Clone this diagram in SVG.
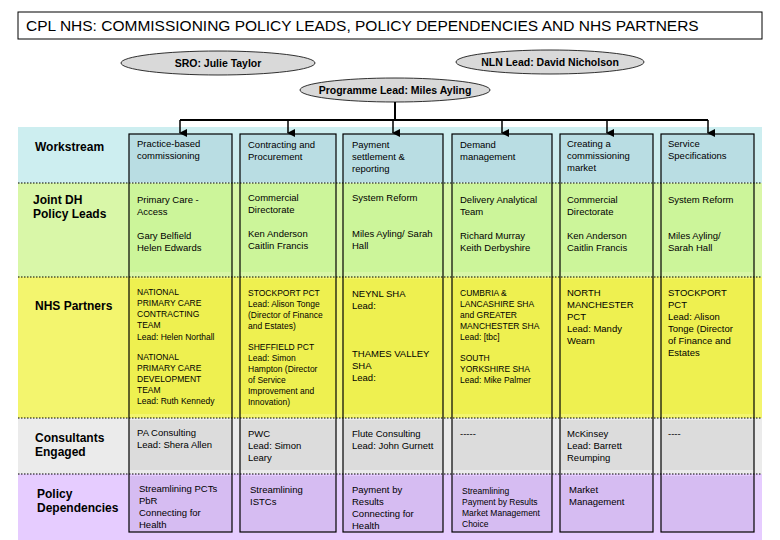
<svg xmlns="http://www.w3.org/2000/svg" width="780" height="540" viewBox="0 0 780 540">
<defs>
<marker id="ah" markerWidth="8" markerHeight="8" refX="4" refY="7" orient="auto" markerUnits="userSpaceOnUse" viewBox="0 0 8 8"><path d="M0,0 L8,0 L4,8 z" fill="#000"/></marker>
</defs>
<style>
text{font-family:"Liberation Sans",Arial,sans-serif;fill:#000}
.t{font-size:9.5px}
.s{font-size:8.5px}
.h{font-size:12px;font-weight:bold}
.e{fill:#d9d9d9;stroke:#000;stroke-width:0.8}
.et{font-size:10.5px;font-weight:bold;text-anchor:middle}
.col{fill:none;stroke:#000;stroke-width:1.2}
.dot{stroke:#000;stroke-width:1;stroke-dasharray:1.5,1.5}
.ln{stroke:#000;stroke-width:2;fill:none}
</style>
<rect width="780" height="540" fill="#fff"/>
<g id="title"><rect x="18" y="12" width="744" height="27" fill="#fff" stroke="#000"/>
<text x="26" y="31" font-size="15.5">CPL NHS: COMMISSIONING POLICY LEADS, POLICY DEPENDENCIES AND NHS PARTNERS</text></g>
<g id="sro"><ellipse cx="218" cy="63" rx="97" ry="12" class="e"/><text x="218" y="67" class="et">SRO: Julie Taylor</text></g>
<g id="nln"><ellipse cx="550" cy="62" rx="94" ry="12" class="e"/><text x="550" y="66" class="et">NLN Lead: David Nicholson</text></g>
<g id="prog"><ellipse cx="395" cy="90" rx="95" ry="12" class="e"/><text x="395" y="94" class="et">Programme Lead: Miles Ayling</text></g>
<g id="bands">
<rect x="18" y="127" width="744" height="56" fill="#cdeef0"/>
<rect x="18" y="183" width="744" height="94" fill="#d9f7a8"/>
<rect x="18" y="277" width="744" height="141" fill="#f3f56e"/>
<rect x="18" y="418" width="744" height="56" fill="#ebebeb"/>
<rect x="18" y="474" width="744" height="66" fill="#e6ccff"/>
<g fill="#b9dde3"><rect x="129" y="134" width="103" height="48"/><rect x="240" y="134" width="96" height="48"/><rect x="343" y="134" width="100" height="48"/><rect x="452" y="134" width="100" height="48"/><rect x="560" y="134" width="93" height="48"/><rect x="661" y="134" width="93" height="48"/></g>
<g fill="#ccf59a"><rect x="129" y="184" width="103" height="88"/><rect x="240" y="184" width="96" height="88"/><rect x="343" y="184" width="100" height="88"/><rect x="452" y="184" width="100" height="88"/><rect x="560" y="184" width="93" height="88"/><rect x="661" y="184" width="93" height="88"/></g>
<g fill="#eef050"><rect x="129" y="279" width="103" height="135"/><rect x="240" y="279" width="96" height="135"/><rect x="343" y="279" width="100" height="135"/><rect x="452" y="279" width="100" height="135"/><rect x="560" y="279" width="93" height="135"/><rect x="661" y="279" width="93" height="135"/></g>
<g fill="#dcdcdc"><rect x="129" y="420" width="103" height="50"/><rect x="240" y="420" width="96" height="50"/><rect x="343" y="420" width="100" height="50"/><rect x="452" y="420" width="100" height="50"/><rect x="560" y="420" width="93" height="50"/><rect x="661" y="420" width="93" height="50"/></g>
<g fill="#d6bcf2"><rect x="129" y="476" width="103" height="56"/><rect x="240" y="476" width="96" height="56"/><rect x="343" y="476" width="100" height="56"/><rect x="452" y="476" width="100" height="56"/><rect x="560" y="476" width="93" height="56"/><rect x="661" y="476" width="93" height="56"/></g>
<line x1="18" y1="183" x2="762" y2="183" class="dot"/>
<line x1="18" y1="277" x2="762" y2="277" class="dot"/>
<line x1="18" y1="418" x2="762" y2="418" class="dot"/>
<line x1="18" y1="474" x2="762" y2="474" class="dot"/>
</g>
<g id="connectors">
<line x1="395" y1="102" x2="395" y2="120" class="ln"/>
<line x1="180" y1="120" x2="708" y2="120" class="ln"/>
<g stroke="#000" stroke-width="1.5" marker-end="url(#ah)">
<line x1="180" y1="120" x2="180" y2="133"/><line x1="288" y1="120" x2="288" y2="133"/><line x1="393" y1="120" x2="393" y2="133"/><line x1="502" y1="120" x2="502" y2="133"/><line x1="607" y1="120" x2="607" y2="133"/><line x1="708" y1="120" x2="708" y2="133"/>
</g>
</g>
<g id="col1"><rect x="129" y="134" width="103" height="398" class="col"/>
<text class="t"><tspan x="137" y="147">Practice-based</tspan><tspan x="137" y="159">commissioning</tspan></text>
<text class="t"><tspan x="137" y="203">Primary Care -</tspan><tspan x="137" y="215">Access</tspan><tspan x="137" y="239">Gary Belfield</tspan><tspan x="137" y="251">Helen Edwards</tspan></text>
<text class="s"><tspan x="137" y="295">NATIONAL</tspan><tspan x="137" y="306">PRIMARY CARE</tspan><tspan x="137" y="317">CONTRACTING</tspan><tspan x="137" y="328">TEAM</tspan><tspan x="137" y="340">Lead: Helen Northall</tspan><tspan x="137" y="360">NATIONAL</tspan><tspan x="137" y="371">PRIMARY CARE</tspan><tspan x="137" y="382">DEVELOPMENT</tspan><tspan x="137" y="393">TEAM</tspan><tspan x="137" y="404">Lead: Ruth Kennedy</tspan></text>
<text class="t"><tspan x="137" y="436">PA Consulting</tspan><tspan x="137" y="448">Lead: Shera Allen</tspan></text>
<text class="t"><tspan x="139" y="492">Streamlining PCTs</tspan><tspan x="139" y="504">PbR</tspan><tspan x="139" y="516">Connecting for</tspan><tspan x="139" y="528">Health</tspan></text></g>
<g id="col2"><rect x="240" y="134" width="96" height="398" class="col"/>
<text class="t"><tspan x="248" y="148">Contracting and</tspan><tspan x="248" y="160">Procurement</tspan></text>
<text class="t"><tspan x="248" y="201">Commercial</tspan><tspan x="248" y="213">Directorate</tspan><tspan x="248" y="237">Ken Anderson</tspan><tspan x="248" y="249">Caitlin Francis</tspan></text>
<text class="s"><tspan x="248" y="296">STOCKPORT PCT</tspan><tspan x="248" y="307">Lead: Alison Tonge</tspan><tspan x="248" y="318">(Director of Finance</tspan><tspan x="248" y="329">and Estates)</tspan><tspan x="248" y="350">SHEFFIELD PCT</tspan><tspan x="248" y="361">Lead: Simon</tspan><tspan x="248" y="372">Hampton (Director</tspan><tspan x="248" y="383">of Service</tspan><tspan x="248" y="394">Improvement and</tspan><tspan x="248" y="405">Innovation)</tspan></text>
<text class="t"><tspan x="248" y="437">PWC</tspan><tspan x="248" y="449">Lead: Simon</tspan><tspan x="248" y="461">Leary</tspan></text>
<text class="t"><tspan x="250" y="493">Streamlining</tspan><tspan x="250" y="505">ISTCs</tspan></text></g>
<g id="col3"><rect x="343" y="134" width="100" height="398" class="col"/>
<text class="t"><tspan x="352" y="148">Payment</tspan><tspan x="352" y="160">settlement &amp;</tspan><tspan x="352" y="172">reporting</tspan></text>
<text class="t"><tspan x="352" y="201">System Reform</tspan><tspan x="352" y="237">Miles Ayling/ Sarah</tspan><tspan x="352" y="249">Hall</tspan></text>
<text class="t"><tspan x="352" y="297">NEYNL SHA</tspan><tspan x="352" y="309">Lead:</tspan><tspan x="352" y="357">THAMES VALLEY</tspan><tspan x="352" y="369">SHA</tspan><tspan x="352" y="381">Lead:</tspan></text>
<text class="t"><tspan x="352" y="437">Flute Consulting</tspan><tspan x="352" y="449">Lead: John Gurnett</tspan></text>
<text class="t"><tspan x="352" y="493">Payment by</tspan><tspan x="352" y="505">Results</tspan><tspan x="352" y="517">Connecting for</tspan><tspan x="352" y="529">Health</tspan></text></g>
<g id="col4"><rect x="452" y="134" width="100" height="398" class="col"/>
<text class="t"><tspan x="460" y="148">Demand</tspan><tspan x="460" y="160">management</tspan></text>
<text class="t"><tspan x="460" y="203">Delivery Analytical</tspan><tspan x="460" y="215">Team</tspan><tspan x="460" y="239">Richard Murray</tspan><tspan x="460" y="251">Keith Derbyshire</tspan></text>
<text class="s"><tspan x="460" y="296">CUMBRIA &amp;</tspan><tspan x="460" y="307">LANCASHIRE SHA</tspan><tspan x="460" y="318">and GREATER</tspan><tspan x="460" y="329">MANCHESTER SHA</tspan><tspan x="460" y="340">Lead: [tbc]</tspan><tspan x="460" y="361">SOUTH</tspan><tspan x="460" y="372">YORKSHIRE SHA</tspan><tspan x="460" y="383">Lead: Mike Palmer</tspan></text>
<text class="t"><tspan x="460" y="437">-----</tspan></text>
<text class="s"><tspan x="462" y="494">Streamlining</tspan><tspan x="462" y="505">Payment by Results</tspan><tspan x="462" y="516">Market Management</tspan><tspan x="462" y="527">Choice</tspan></text></g>
<g id="col5"><rect x="560" y="134" width="93" height="398" class="col"/>
<text class="t"><tspan x="567" y="147">Creating a</tspan><tspan x="567" y="159">commissioning</tspan><tspan x="567" y="171">market</tspan></text>
<text class="t"><tspan x="567" y="203">Commercial</tspan><tspan x="567" y="215">Directorate</tspan><tspan x="567" y="239">Ken Anderson</tspan><tspan x="567" y="251">Caitlin Francis</tspan></text>
<text class="t"><tspan x="567" y="296">NORTH</tspan><tspan x="567" y="308">MANCHESTER</tspan><tspan x="567" y="320">PCT</tspan><tspan x="567" y="332">Lead: Mandy</tspan><tspan x="567" y="344">Wearn</tspan></text>
<text class="t"><tspan x="567" y="437">McKinsey</tspan><tspan x="567" y="449">Lead: Barrett</tspan><tspan x="567" y="461">Reumping</tspan></text>
<text class="t"><tspan x="569" y="493">Market</tspan><tspan x="569" y="505">Management</tspan></text></g>
<g id="col6"><rect x="661" y="134" width="93" height="398" class="col"/>
<text class="t"><tspan x="668" y="147">Service</tspan><tspan x="668" y="159">Specifications</tspan></text>
<text class="t"><tspan x="668" y="203">System Reform</tspan><tspan x="668" y="239">Miles Ayling/</tspan><tspan x="668" y="251">Sarah Hall</tspan></text>
<text class="t"><tspan x="668" y="296">STOCKPORT</tspan><tspan x="668" y="308">PCT</tspan><tspan x="668" y="320">Lead: Alison</tspan><tspan x="668" y="332">Tonge (Director</tspan><tspan x="668" y="344">of Finance and</tspan><tspan x="668" y="356">Estates</tspan></text>
<text class="t"><tspan x="668" y="437">----</tspan></text></g>
<g id="rowlabels">
<text class="h" x="35" y="151">Workstream</text>
<text class="h"><tspan x="33" y="204">Joint DH</tspan><tspan x="33" y="218">Policy Leads</tspan></text>
<text class="h" x="35" y="310">NHS Partners</text>
<text class="h"><tspan x="35" y="442">Consultants</tspan><tspan x="35" y="456">Engaged</tspan></text>
<text class="h"><tspan x="37" y="498">Policy</tspan><tspan x="37" y="512">Dependencies</tspan></text>
</g>
</svg>
